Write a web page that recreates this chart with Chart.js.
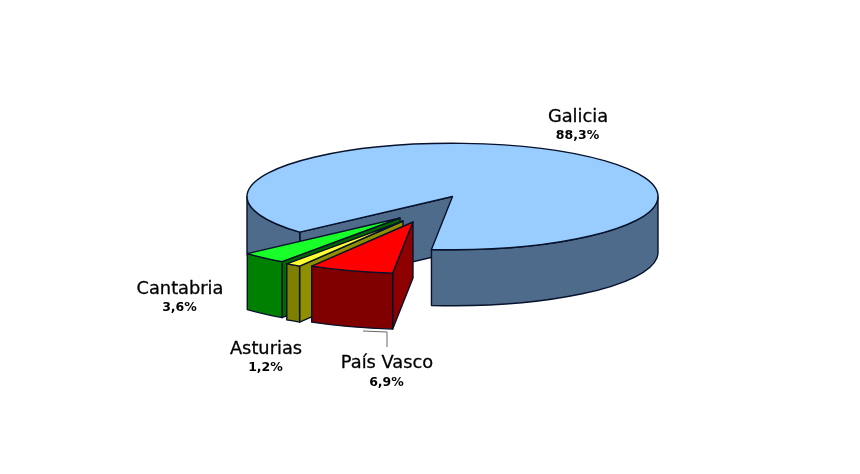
<!DOCTYPE html>
<html><head><meta charset="utf-8">
<style>html,body{margin:0;padding:0;background:#fff}canvas{display:block}</style>
<script src="https://cdn.jsdelivr.net/npm/chart.js@4"></script>
</head><body><canvas id="c" width="860" height="474"></canvas>
<script>
const categories = ['Galicia', 'País Vasco', 'Asturias', 'Cantabria'];
const shares = [88.3, 6.9, 1.2, 3.6];

const topColors  = ['#99ccff', '#ff0000', '#ffff33', '#19ff2a'];
const arcColors  = ['#4f6b8c', '#800000', '#808000', '#008000'];
const faceColors = ['#4f6b8c', '#8e0000', '#8f8f00', '#006a00'];
const lineColor = '#07122b';
const tilt = 0.259, depth = 56;
const shifts = [[0,0], [-39.5,25.5], [-49.5,24.5], [-52.5,21.5]];
const radiusScales = [1, 0.965, 0.985, 1];
const drawOrder = [0, 3, 2, 1];
const labelAnchors = [[578,122,139], [387,368,386], [266,354,371], [180,294,311]];

const pie3d = {
  id: 'pie3d',
  beforeDatasetDraw() { return false; },
  afterDatasetsDraw(chart) {
    const ctx = chart.ctx;
    const arcs = chart.getDatasetMeta(0).data;
    ctx.lineJoin = 'round';
    ctx.lineWidth = 1.4;
    ctx.strokeStyle = lineColor;
    drawOrder.forEach(i => {
      const el = arcs[i];
      const props = el.getProps(['x','y','startAngle','endAngle','outerRadius'], true);
      const s = props.startAngle, e = props.endAngle, r = props.outerRadius * radiusScales[i];
      const cx = props.x + shifts[i][0], cy = props.y + shifts[i][1];
      const px = a => cx + r * Math.cos(a), py = a => cy + r * tilt * Math.sin(a);
      const face = a => {
        ctx.beginPath();
        ctx.moveTo(cx, cy);
        ctx.lineTo(px(a), py(a));
        ctx.lineTo(px(a), py(a) + depth);
        ctx.lineTo(cx, cy + depth);
        ctx.closePath();
        ctx.fillStyle = faceColors[i];
        ctx.fill(); ctx.stroke();
      };
      if (Math.cos(e) > 0) face(e);
      if (Math.cos(s) < 0) face(s);
      for (let k = -1; k < 3; k++) {
        const lo = Math.max(s, k * 2 * Math.PI), hi = Math.min(e, k * 2 * Math.PI + Math.PI);
        if (hi <= lo) continue;
        ctx.beginPath();
        ctx.ellipse(cx, cy, r, r * tilt, 0, lo, hi);
        ctx.ellipse(cx, cy + depth, r, r * tilt, 0, hi, lo, true);
        ctx.closePath();
        ctx.fillStyle = arcColors[i];
        ctx.fill(); ctx.stroke();
      }
      ctx.save();
      ctx.translate(cx, cy);
      ctx.scale(radiusScales[i], tilt * radiusScales[i]);
      ctx.translate(-props.x, -props.y);
      el.draw(ctx);
      ctx.restore();
      ctx.beginPath();
      ctx.moveTo(cx, cy);
      ctx.ellipse(cx, cy, r, r * tilt, 0, s, e);
      ctx.closePath();
      ctx.stroke();
    });
    // leader line for País Vasco
    ctx.beginPath();
    ctx.moveTo(363, 331); ctx.lineTo(387, 332); ctx.lineTo(387, 347);
    ctx.strokeStyle = '#666'; ctx.lineWidth = 1; ctx.stroke();
    // labels
    ctx.fillStyle = '#000';
    ctx.strokeStyle = '#000';
    ctx.lineWidth = 0.3;
    ctx.textAlign = 'center';
    ctx.textBaseline = 'alphabetic';
    categories.forEach((name, i) => {
      const [x, y1, y2] = labelAnchors[i];
      ctx.font = '17.8px "DejaVu Sans"';
      ctx.fillText(name, x, y1);
      ctx.strokeText(name, x, y1);
      ctx.font = 'bold 12.5px "DejaVu Sans"';
      ctx.fillText(shares[i].toFixed(1).replace('.', ',') + '%', x - 0.5, y2);
    });
  }
};

new Chart(document.getElementById('c'), {
  type: 'pie',
  data: { labels: categories, datasets: [{ data: shares, backgroundColor: topColors, borderWidth: 0 }] },
  options: {
    responsive: false,
    animation: false,
    radius: 205.5,
    rotation: 228,
    layout: { padding: { left: 45, right: 0, top: 0, bottom: 81 } },
    plugins: { legend: { display: false }, tooltip: { enabled: false } }
  },
  plugins: [pie3d]
});
</script></body></html>
